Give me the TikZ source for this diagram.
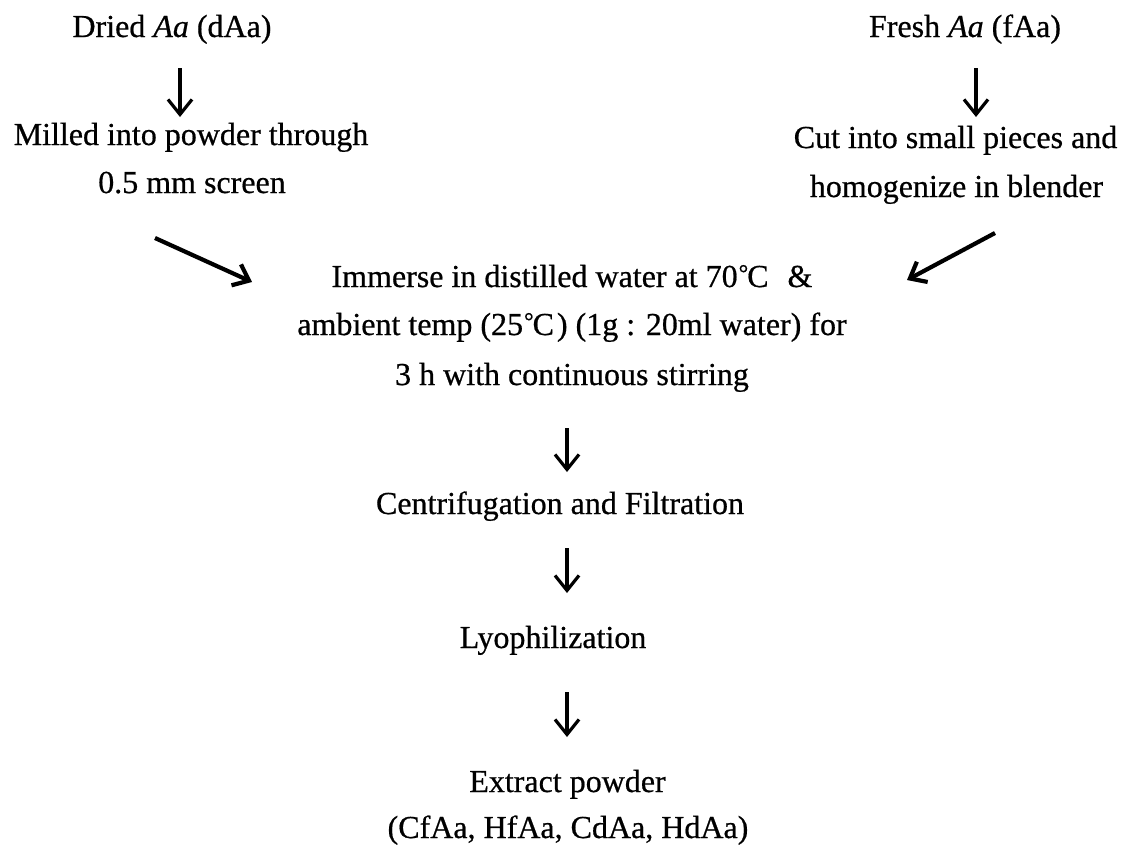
\documentclass[tikz,border=0pt]{standalone}
\usepackage{fontspec}
\setmainfont{Liberation Serif}[FakeBold=0.6]
\usetikzlibrary{arrows.meta}
\newcommand{\degC}{\kern1pt{\fontsize{24}{30}\selectfont\raisebox{6pt}{°}}\kern-1pt C\kern3pt}
\begin{document}
\begin{tikzpicture}[x=1pt,y=-1pt,
  txt/.style={inner sep=0pt, anchor=base, font=\fontsize{32}{40}\selectfont},
  varr/.style={line width=3.2pt, -{Straight Barb[length=15pt,width=24pt,line width=3.2pt]}},
  darr/.style={line width=4.2pt, -{Straight Barb[length=14pt,width=23pt,line width=4.2pt]}}]
\fill[white] (0,0) rectangle (1136,844);
\useasboundingbox (0,0) rectangle (1136,844);
% left column
\node[txt] (dried)   at (172,37)  {Dried \textit{Aa} (dAa)};
\node[txt] (milled)  at (191,145) {Milled into powder through};
\node[txt] (screen)  at (192,193) {0.5 mm screen};
% right column
\node[txt] (fresh)   at (965,37)  {Fresh \textit{Aa} (fAa)};
\node[txt] (cut)     at (955.5,148) {Cut into small pieces and};
\node[txt] (homog)   at (956.5,197) {homogenize in blender};
% middle block
\node[txt] (immerse) at (572,287) {Immerse in distilled water at 70\degC\ \ \&};
\node[txt] (ambient) at (572,335) {ambient temp (25\degC) (1g : 20ml water) for};
\node[txt] (stir)    at (572,385) {3 h with continuous stirring};
\node[txt] (centri)  at (560,514) {Centrifugation and Filtration};
\node[txt] (lyo)     at (553,648) {Lyophilization};
\node[txt] (extract) at (567.5,792) {Extract powder};
\node[txt] (codes)   at (568,838) {(CfAa, HfAa, CdAa, HdAa)};
% connectors
\draw[varr] ([shift={(8,31)}]dried.base) -- ([shift={(-11,-28)}]milled.base);
\draw[varr] ([shift={(11,31)}]fresh.base) -- ([shift={(20.5,-31)}]cut.base);
\draw[darr] ([shift={(-37,45)}]screen.base) -- ([shift={(-320,-5)}]immerse.base);
\draw[darr] ([shift={(38.5,36)}]homog.base) -- ([shift={(335,-7)}]immerse.base);
\draw[varr] ([shift={(-5,43)}]stir.base) -- ([shift={(7,-42)}]centri.base);
\draw[varr] ([shift={(7,34)}]centri.base) -- ([shift={(14,-55)}]lyo.base);
\draw[varr] ([shift={(14,44)}]lyo.base) -- ([shift={(-0.5,-55)}]extract.base);
\end{tikzpicture}
\end{document}
